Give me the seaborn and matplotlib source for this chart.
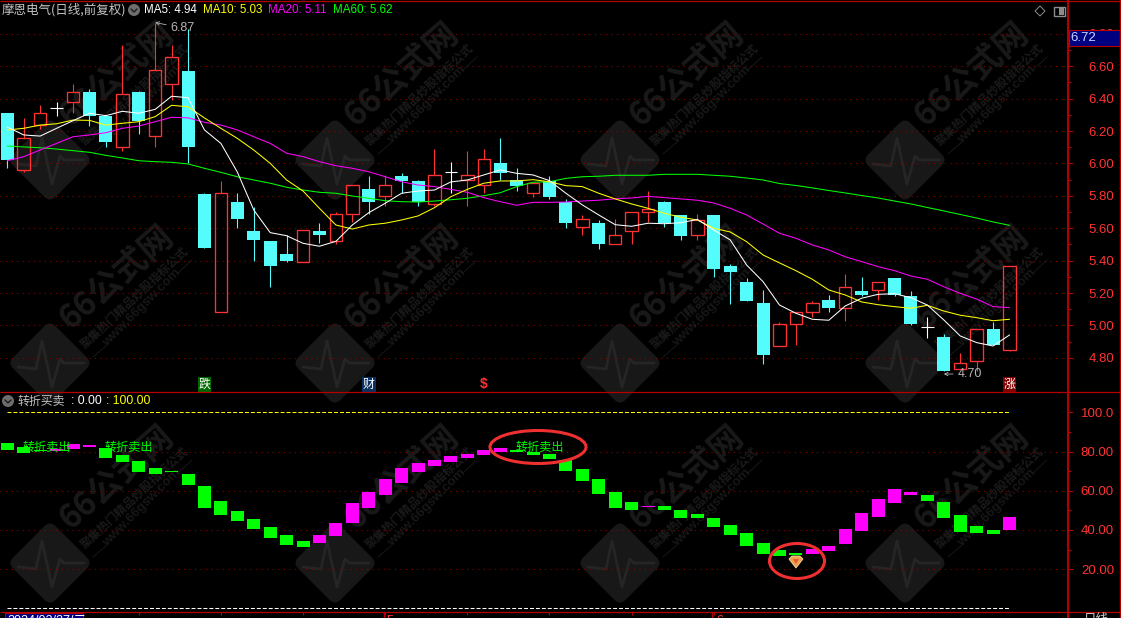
import numpy as np
import pandas as pd
import matplotlib
matplotlib.use('Agg')
import matplotlib.pyplot as plt
import seaborn as sns
from matplotlib.patches import Ellipse, Rectangle, FancyBboxPatch, Circle, Polygon
from matplotlib.transforms import Affine2D

# -------------------------------
# Data
# -------------------------------
opens = [6.31, 5.96, 6.24, 6.34, 6.38, 6.44, 6.29, 6.10, 6.44, 6.17, 6.49, 6.57, 5.81, 5.08, 5.76, 5.58,
         5.52, 5.44, 5.39, 5.58, 5.52, 5.69, 5.84, 5.80, 5.92, 5.89, 5.75, 5.95, 5.90, 5.87, 6.00, 5.90,
         5.82, 5.89, 5.76, 5.61, 5.63, 5.50, 5.58, 5.70, 5.76, 5.68, 5.56, 5.68, 5.37, 5.27, 5.14, 4.87,
         5.01, 5.08, 5.16, 5.11, 5.21, 5.22, 5.29, 5.18, 4.99, 4.93, 4.73, 4.78, 4.98, 4.85]
closes = [6.02, 6.16, 6.31, 6.34, 6.44, 6.29, 6.13, 6.43, 6.26, 6.58, 6.66, 6.10, 5.48, 5.82, 5.66, 5.53,
          5.37, 5.40, 5.59, 5.56, 5.69, 5.87, 5.76, 5.87, 5.89, 5.76, 5.93, 5.95, 5.93, 6.03, 5.94, 5.86,
          5.88, 5.79, 5.63, 5.66, 5.50, 5.56, 5.70, 5.72, 5.63, 5.55, 5.65, 5.35, 5.33, 5.15, 4.82, 5.01,
          5.08, 5.14, 5.11, 5.24, 5.19, 5.27, 5.19, 5.01, 4.99, 4.72, 4.77, 4.98, 4.88, 5.37]
highs = [6.31, 6.28, 6.36, 6.38, 6.49, 6.46, 6.30, 6.73, 6.45, 6.87, 6.73, 6.83, 5.82, 5.89, 5.82, 5.73,
         5.52, 5.56, 5.59, 5.63, 5.70, 5.87, 5.92, 5.93, 5.94, 5.90, 6.09, 6.01, 6.08, 6.09, 6.16, 5.97,
         5.88, 5.92, 5.78, 5.68, 5.65, 5.66, 5.70, 5.83, 5.77, 5.68, 5.69, 5.68, 5.38, 5.29, 5.22, 5.02,
         5.08, 5.15, 5.19, 5.32, 5.30, 5.27, 5.29, 5.21, 5.05, 4.95, 4.83, 4.98, 5.02, 5.37]
lows = [5.97, 5.95, 6.21, 6.29, 6.31, 6.23, 6.10, 6.08, 6.18, 6.10, 6.39, 6.00, 5.48, 5.08, 5.60, 5.40,
        5.24, 5.39, 5.39, 5.51, 5.50, 5.64, 5.69, 5.74, 5.82, 5.74, 5.74, 5.82, 5.74, 5.82, 5.90, 5.83,
        5.79, 5.78, 5.60, 5.56, 5.47, 5.50, 5.50, 5.64, 5.61, 5.53, 5.53, 5.30, 5.13, 5.15, 4.76, 4.87,
        4.88, 5.05, 5.08, 5.03, 5.18, 5.16, 5.18, 5.00, 4.92, 4.72, 4.73, 4.72, 4.88, 4.84]

ma5 = [6.225, 6.176, 6.169, 6.217, 6.264, 6.310, 6.295, 6.322, 6.310, 6.334, 6.415, 6.406, 6.207, 6.124,
       5.947, 5.713, 5.573, 5.554, 5.507, 5.489, 5.519, 5.620, 5.696, 5.754, 5.816, 5.830, 5.836, 5.886,
       5.898, 5.929, 5.960, 5.939, 5.929, 5.894, 5.816, 5.744, 5.682, 5.622, 5.612, 5.631, 5.628, 5.634,
       5.655, 5.589, 5.528, 5.373, 5.270, 5.126, 5.075, 5.038, 5.032, 5.120, 5.168, 5.192, 5.196, 5.171,
       5.126, 5.034, 4.935, 4.894, 4.873, 4.941]
ma10 = [6.207, 6.217, 6.237, 6.245, 6.268, 6.266, 6.237, 6.248, 6.258, 6.289, 6.359, 6.350, 6.281, 6.217,
        6.155, 6.083, 6.001, 5.898, 5.830, 5.723, 5.620, 5.595, 5.620, 5.631, 5.651, 5.676, 5.727, 5.795,
        5.840, 5.878, 5.892, 5.892, 5.900, 5.887, 5.863, 5.857, 5.816, 5.781, 5.750, 5.723, 5.692, 5.668,
        5.651, 5.600, 5.577, 5.517, 5.435, 5.386, 5.338, 5.285, 5.219, 5.188, 5.145, 5.128, 5.116, 5.106,
        5.124, 5.089, 5.063, 5.048, 5.029, 5.038]
ma20 = [6.017, 6.042, 6.083, 6.124, 6.165, 6.176, 6.190, 6.217, 6.231, 6.258, 6.285, 6.282, 6.254, 6.237,
        6.207, 6.165, 6.124, 6.063, 6.042, 6.011, 5.986, 5.970, 5.949, 5.918, 5.887, 5.867, 5.857, 5.840,
        5.822, 5.789, 5.764, 5.742, 5.760, 5.760, 5.762, 5.768, 5.773, 5.782, 5.787, 5.797, 5.789, 5.781,
        5.773, 5.756, 5.723, 5.682, 5.626, 5.569, 5.538, 5.497, 5.466, 5.424, 5.394, 5.363, 5.338, 5.305,
        5.285, 5.239, 5.198, 5.163, 5.116, 5.110]
ma60 = [6.108, 6.102, 6.097, 6.089, 6.079, 6.069, 6.050, 6.034, 6.017, 6.011, 6.007, 5.997, 5.970, 5.945,
        5.918, 5.898, 5.878, 5.853, 5.836, 5.822, 5.816, 5.799, 5.785, 5.770, 5.764, 5.762, 5.768, 5.776,
        5.785, 5.801, 5.819, 5.857, 5.884, 5.887, 5.908, 5.918, 5.921, 5.927, 5.927, 5.927, 5.933, 5.933,
        5.933, 5.927, 5.921, 5.910, 5.898, 5.876, 5.864, 5.849, 5.833, 5.818, 5.802, 5.787, 5.768, 5.750,
        5.728, 5.707, 5.685, 5.663, 5.639, 5.618]

# turning indicator, floating bars (top, bottom), 1 = magenta rising, 0 = green falling
turn_top = [84.3, 82.3, 81.0, 81.3, 83.8, 83.3, 81.8, 78.2, 75.2, 71.6, 70.1, 68.5, 62.4, 54.7, 49.6, 45.6,
            41.5, 37.4, 34.3, 37.4, 43.5, 53.7, 59.3, 66.0, 71.6, 74.1, 75.7, 77.7, 78.7, 80.8, 81.8, 80.8,
            79.7, 78.7, 75.7, 71.1, 66.0, 59.3, 54.2, 52.2, 52.2, 50.2, 48.1, 46.1, 42.5, 38.4, 33.3, 29.7,
            28.2, 30.3, 31.8, 40.5, 48.6, 55.8, 60.9, 59.3, 57.8, 54.2, 47.6, 42.0, 39.9, 46.6]
turn_bottom = [80.6, 79.4, 80.3, 80.3, 81.4, 82.4, 76.7, 74.6, 69.5, 68.5, 69.7, 62.9, 51.2, 47.6, 44.5, 40.5,
               35.9, 32.3, 31.3, 33.3, 36.9, 43.5, 51.2, 57.8, 63.9, 69.5, 72.6, 74.6, 76.7, 78.2, 79.7, 79.7,
               78.2, 76.2, 70.1, 64.9, 58.3, 51.2, 50.2, 51.7, 50.2, 46.1, 46.1, 41.5, 37.4, 31.8, 27.7, 26.7,
               27.2, 27.7, 29.2, 32.8, 39.4, 46.6, 53.7, 57.8, 54.8, 46.1, 38.9, 38.4, 37.9, 39.9]
turn_rising = [0, 0, 0, 1, 1, 1, 0, 0, 0, 0, 0, 0, 0, 0, 0, 0, 0, 0, 0, 1, 1, 1, 1, 1, 1, 1, 1, 1, 1, 1, 1,
               0, 0, 0, 0, 0, 0, 0, 0, 1, 0, 0, 0, 0, 0, 0, 0, 0, 0, 1, 1, 1, 1, 1, 1, 1, 0, 0, 0, 0, 0, 1]

price_ticks = [4.8, 5.0, 5.2, 5.4, 5.6, 5.8, 6.0, 6.2, 6.4, 6.6, 6.8]
turn_ticks = [20, 40, 60, 80, 100]
turn_tick_labels = ['20.00', '40.00', '60.00', '80.00', '100.0']
date_ticks = [8, 13, 18, 23, 28, 33, 38, 43]
sell_idx = [1, 6, 31]
sell_val = [82.3, 82.3, 82.3]
gem_idx = 48
event_idx = [12, 22, 61]
event_text = ['跌', '财', '涨']
event_box = ['#006a00', '#0a3060', '#800000']

# -------------------------------
# Colours / theme
# -------------------------------
RED = '#ff3232'
CYAN = '#54fcfc'
AXIS_RED = '#b40000'
GRID_RED = '#8a0000'
GRAY = '#b4b4b4'
CJK = ['Noto Sans CJK SC', 'DejaVu Sans']

sns.set_theme(style='dark', rc={'figure.facecolor': 'black', 'axes.facecolor': 'none'})
plt.rcParams['font.family'] = ['Liberation Sans', 'Noto Sans CJK SC', 'DejaVu Sans']

W, H = 1121, 618
fig = plt.figure(figsize=(W / 100, H / 100), dpi=100, facecolor='black')


def pixel_axes(z):
    a = fig.add_axes([0, 0, 1, 1], zorder=z)
    a.set_xlim(0, W)
    a.set_ylim(H, 0)
    a.axis('off')
    a.patch.set_visible(False)
    return a


# -------------------------------
# Watermark layer
# -------------------------------
bg = pixel_axes(0)
pulse = [(-32, 4), (-14, 6), (-8, -22), (2, 24), (10, -4), (14, 0), (34, 0)]
for cx in [50, 335, 620, 905]:
    for cy in [160, 363, 563]:
        rot = Affine2D().rotate_deg_around(cx, cy, 45) + bg.transData
        bg.add_patch(FancyBboxPatch((cx - 30, cy - 30), 60, 60, boxstyle='round,pad=0,rounding_size=8',
                                    fc='#181818', ec='none', transform=rot))
        bg.plot([cx + p[0] for p in pulse], [cy + p[1] for p in pulse], color='#252525', lw=2)
        bg.text(cx + 67, cy - 85, '66公式网', color='#191919', fontsize=24, fontweight='bold', family=CJK,
                rotation=41, ha='center', va='center', rotation_mode='anchor')
        bg.text(cx + 85, cy - 65, '聚集热门精品炒股指标公式', color='#1a1a1a', fontsize=8.6, fontweight='bold',
                family=CJK, rotation=43, ha='center', va='center', rotation_mode='anchor')
        bg.text(cx + 92, cy - 55, 'www.66gsw.com', color='#171717', fontsize=9.5, fontweight='bold',
                rotation=45, ha='center', va='center', rotation_mode='anchor')
        bg.plot([cx + 43, cx + 57], [cy - 6, cy - 18], color='#181818', lw=0.7)
        bg.plot([cx + 128, cx + 142], [cy - 90, cy - 103], color='#181818', lw=0.7)

# -------------------------------
# Axes, pixel layout of the two panels
# -------------------------------
ax = fig.add_axes([0, 1 - 392 / H, 1068 / W, 391 / H], zorder=1)
ax2 = fig.add_axes([0, 1 - 612 / H, 1068 / W, 220 / H], zorder=1)
xlim = (-0.444, 64.56)

# -------------------------------
# Candles
# -------------------------------
df = pd.DataFrame({'idx': np.arange(len(opens)), 'open': opens, 'close': closes, 'high': highs, 'low': lows})
df['top'] = df[['open', 'close']].max(axis=1)
df['bottom'] = df[['open', 'close']].min(axis=1)
df['height'] = df['top'] - df['bottom']
up = df[df['close'] > df['open']]
down = df[df['close'] < df['open']]
doji = df[df['close'] == df['open']]

ax.vlines(down['idx'], down['low'], down['high'], color=CYAN, lw=0.8)
ax.vlines(up['idx'], up['top'], up['high'], color=RED, lw=0.8)
ax.vlines(up['idx'], up['low'], up['bottom'], color=RED, lw=0.8)
ax.vlines(doji['idx'], doji['low'], doji['high'], color='white', lw=0.8)
ax.hlines(doji['close'], doji['idx'] - 0.38, doji['idx'] + 0.38, color='white', lw=0.8)

sns.barplot(data=down, x='idx', y='height', bottom=down['bottom'], native_scale=True, width=0.79,
            color=CYAN, saturation=1, errorbar=None, linewidth=0, antialiased=False, ax=ax)
# hollow bodies stay antialiased, a bit over one pixel so they keep their brightness
sns.barplot(data=up, x='idx', y='height', bottom=up['bottom'], native_scale=True, width=0.76,
            color=RED, saturation=1, errorbar=None, fill=False, linewidth=0.95, ax=ax)

# moving averages
for vals, col in [(ma60, '#00ff00'), (ma20, '#ff00ff'), (ma10, '#ffff00'), (ma5, '#ffffff')]:
    sns.lineplot(x=df['idx'], y=vals, color=col, lw=0.75, errorbar=None, zorder=4, ax=ax)

ax.set_xlim(*xlim)
ax.set_ylim(4.589, 7.003)
ax.hlines(price_ticks, *xlim, color=GRID_RED, lw=0.8, linestyles=(0, (1, 4)), zorder=0)

# high / low notes
ax.annotate('6.87', xy=(9, 6.87), xytext=(9.95, 6.836), color=GRAY, fontsize=9, va='center', ha='left',
            arrowprops=dict(arrowstyle='->', color=GRAY, lw=0.6, shrinkA=1, shrinkB=0, mutation_scale=6))
ax.annotate('4.70', xy=(57, 4.70), xytext=(57.85, 4.70), color=GRAY, fontsize=9, va='center', ha='left',
            arrowprops=dict(arrowstyle='->', color=GRAY, lw=0.6, shrinkA=1, shrinkB=0, mutation_scale=6))

# event boxes on the bottom of the price panel
for i, t, c in zip(event_idx, event_text, event_box):
    ax.text(i, 4.636, t, color='white', fontsize=8.6, family=CJK, ha='center', va='center',
            bbox=dict(fc=c, ec='none', pad=0.6), zorder=5)
ax.text(29, 4.636, '$', color=RED, fontsize=10, fontweight='bold', ha='center', va='center', zorder=5)

# -------------------------------
# Turning indicator panel
# -------------------------------
tf = pd.DataFrame({'idx': np.arange(len(turn_top)), 'top': turn_top, 'bottom': turn_bottom, 'rising': turn_rising})
tf['height'] = tf['top'] - tf['bottom']
for flag, col in [(1, '#ff00ff'), (0, '#00ff00')]:
    part = tf[tf['rising'] == flag]
    sns.barplot(data=part, x='idx', y='height', bottom=part['bottom'], native_scale=True, width=0.79,
                color=col, saturation=1, errorbar=None, linewidth=0, antialiased=False, ax=ax2)

ax2.set_xlim(*xlim)
ax2.set_ylim(-1.9, 110.4)
ax2.hlines([20, 40, 60, 80], *xlim, color=GRID_RED, lw=0.8, linestyles=(0, (1, 4)), zorder=0)
ax2.hlines(100, 0, 61, color='#ffff00', lw=0.75, linestyles=(0, (3.8, 1.9)))
ax2.hlines(0, 0, 61, color='white', lw=0.75, linestyles=(0, (3.8, 1.9)))

for i, v in zip(sell_idx, sell_val):
    ax2.text(i - 0.05, v, '转折卖出', color='#00ff00', fontsize=8.7, family=CJK, ha='left', va='center', zorder=5)

# -------------------------------
# Ticks on both panels
# -------------------------------
for a, maj, labels, step in [(ax, price_ticks, ['%.2f' % p for p in price_ticks], 0.1),
                             (ax2, turn_ticks, turn_tick_labels, 10)]:
    a.set_xlabel('')
    a.set_ylabel('')
    a.yaxis.tick_right()
    a.set_yticks(maj)
    a.set_yticklabels(labels)
    a.set_yticks(np.array(maj[:-1]) + step, minor=True)
    a.tick_params(axis='y', which='major', colors=AXIS_RED, length=3.6, width=0.8, pad=29.5, labelcolor=RED,
                  labelsize=9.5, right=True)
    a.tick_params(axis='y', which='minor', colors=AXIS_RED, length=2.2, width=0.8, right=True)
    for lbl in a.get_yticklabels():
        lbl.set_ha('right')
    for s in a.spines.values():
        s.set_visible(False)
    a.grid(False)
ax.set_xticks([])
ax2.set_xticks(date_ticks)
ax2.set_xticklabels([])
ax2.tick_params(axis='x', colors=AXIS_RED, length=2, width=0.8, bottom=True)

# -------------------------------
# Frame, headers, marks on top
# -------------------------------
fg = pixel_axes(3)
for y in [1, 392, 612]:
    fg.plot([0, W], [y, y], color=AXIS_RED, lw=0.9, solid_capstyle='butt')
fg.plot([1068, 1068], [0, H], color=AXIS_RED, lw=1.5)
fg.plot([1120, 1120], [0, H], color=AXIS_RED, lw=1)

fg.text(2, 10, '摩恩电气(日线,前复权)', color='#c4c4c4', fontsize=9, family=CJK, va='center')
for x, t, c in [(144, 'MA5: 4.94', 'white'), (203, 'MA10: 5.03', '#ffff00'),
                (268, 'MA20: 5.11', '#ff00ff'), (333, 'MA60: 5.62', '#00ff00')]:
    fg.text(x, 10, t, color=c, fontsize=8.4, va='center')
fg.text(18, 401, '转折买卖', color='#c4c4c4', fontsize=8.6, family=CJK, va='center')
fg.text(71, 401, ': 0.00', color='white', fontsize=8.8, va='center')
fg.text(106, 401, ': 100.00', color='#ffff00', fontsize=8.8, va='center')

for cx, cy in [(134, 10), (8, 401)]:
    fg.add_patch(Circle((cx, cy), 6, fc='#6e6e6e', ec='none'))
    fg.plot([cx - 3, cx, cx + 3], [cy - 1, cy + 2, cy - 1], color='#1c1c1c', lw=1)

# top right buttons and the last price box
fg.add_patch(Polygon([(1040, 6), (1045, 11), (1040, 16), (1035, 11)], fc='none', ec='#8c8c8c', lw=0.7))
fg.add_patch(Rectangle((1054, 7), 11, 9, fc='none', ec='#8c8c8c', lw=1))
fg.add_patch(Rectangle((1059, 8), 5, 7, fc='#8c8c8c', ec='none'))
fg.add_patch(Rectangle((1069, 30), 51, 16, fc='#000080', ec=AXIS_RED, lw=0.8))
fg.text(1070, 38, '6.72', color='#c8d4ff', fontsize=9.5, va='center')

# date strip, cut by the lower edge just like the source
fg.add_patch(Rectangle((5, 613), 78, 10, fc='#000080', ec=AXIS_RED, lw=0.8, clip_on=True))
fg.text(7, 620.5, '2024/02/27/二', color='white', fontsize=9, family=['Liberation Sans', 'Noto Sans CJK SC'],
        va='center')
fg.plot([384, 384], [612, 618], color=AXIS_RED, lw=1)
fg.plot([712, 712], [612, 618], color=AXIS_RED, lw=1)
fg.text(387, 621, '5', color=RED, fontsize=9, va='center')
fg.text(716, 621, '6', color=RED, fontsize=9, va='center')
fg.text(1084, 620, '日线', color='#d0d0d0', fontsize=9, family=CJK, va='center')

# hand drawn ellipses and the gem
fg.add_patch(Ellipse((538, 447), 96, 33, fc='none', ec='#f03030', lw=2.2))
fg.add_patch(Ellipse((797, 561), 55, 35, fc='none', ec='#f03030', lw=2.2))
gem_x = 7.3 + 16.43 * gem_idx
fg.add_patch(Polygon([(gem_x - 7, 559), (gem_x - 4, 556), (gem_x + 4, 556), (gem_x + 7, 559), (gem_x, 568)],
                     fc='#f0a050', ec='#f8d8a0', lw=0.6))
fg.add_patch(Polygon([(gem_x - 3, 559), (gem_x + 3, 559), (gem_x, 564)], fc='#e06030', ec='none'))

fig.savefig('out.png', dpi=100, facecolor='black')
plt.close(fig)
